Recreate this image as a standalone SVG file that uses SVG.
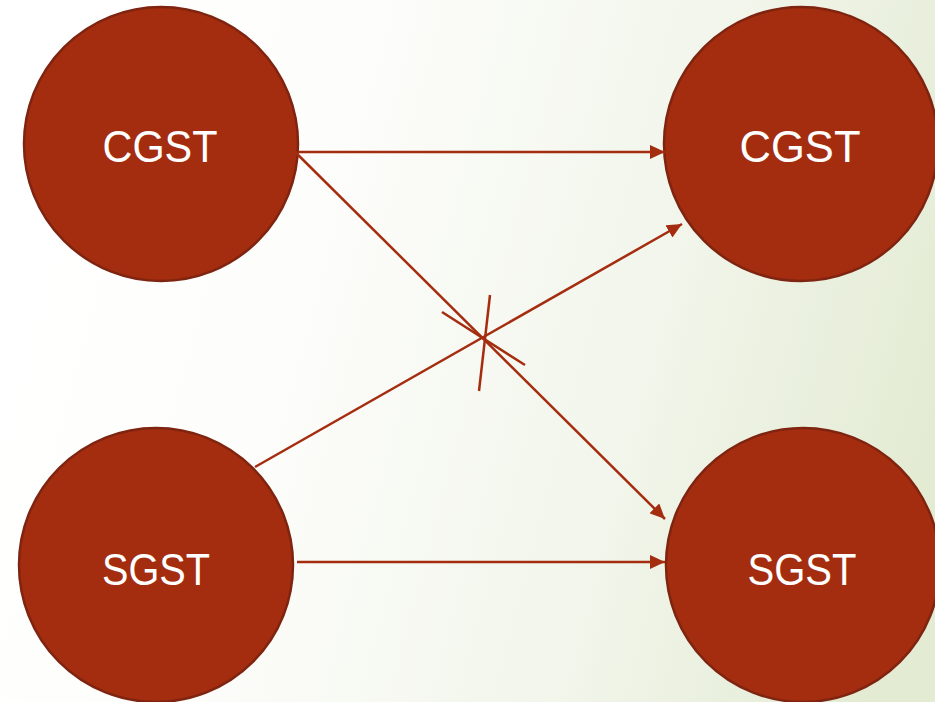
<svg xmlns="http://www.w3.org/2000/svg" width="935" height="702" viewBox="0 0 935 702">
<defs>
<linearGradient id="bg" x1="0" y1="0.4" x2="1" y2="0.6">
<stop offset="0" stop-color="#FFFFFF"/>
<stop offset="0.3" stop-color="#FDFDFB"/>
<stop offset="0.7" stop-color="#F1F5EA"/>
<stop offset="1" stop-color="#E3EBD3"/>
</linearGradient>
<marker id="ah" markerUnits="userSpaceOnUse" markerWidth="16" markerHeight="14" refX="15" refY="7" orient="auto">
<path d="M0,0 L15,7 L0,14 Z" fill="#A52D0F"/>
</marker>
<style>
.node circle{fill:#A52D0F;stroke:#7E2410;stroke-width:2.5}
.node text{fill:#FFFFFF;font-family:"Liberation Sans","DejaVu Sans",sans-serif;font-size:45px;text-anchor:middle}
.conn line{stroke:#A52D0F;stroke-width:2.5;fill:none}
</style>
</defs>
<rect width="935" height="702" fill="url(#bg)"/>
<g id="cgst-left" class="node">
<circle cx="161" cy="144" r="137"/>
<text x="160" y="162" textLength="115" lengthAdjust="spacingAndGlyphs">CGST</text>
</g>
<g id="cgst-right" class="node">
<circle cx="801" cy="144" r="137"/>
<text x="800" y="162" textLength="121" lengthAdjust="spacingAndGlyphs">CGST</text>
</g>
<g id="sgst-left" class="node">
<circle cx="156" cy="565" r="137"/>
<text x="156" y="585" textLength="108" lengthAdjust="spacingAndGlyphs">SGST</text>
</g>
<g id="sgst-right" class="node">
<circle cx="803" cy="565" r="137"/>
<text x="802" y="585" textLength="109" lengthAdjust="spacingAndGlyphs">SGST</text>
</g>
<g id="connectors" class="conn">
<line x1="298" y1="152" x2="665" y2="152" marker-end="url(#ah)"/>
<line x1="276" y1="133" x2="665" y2="519" marker-end="url(#ah)"/>
<line x1="255" y1="467" x2="682" y2="224" marker-end="url(#ah)"/>
<line x1="297" y1="562" x2="665" y2="562" marker-end="url(#ah)"/>
<line x1="442" y1="312" x2="525" y2="365"/>
<line x1="490" y1="295" x2="479" y2="391"/>
</g>
</svg>
